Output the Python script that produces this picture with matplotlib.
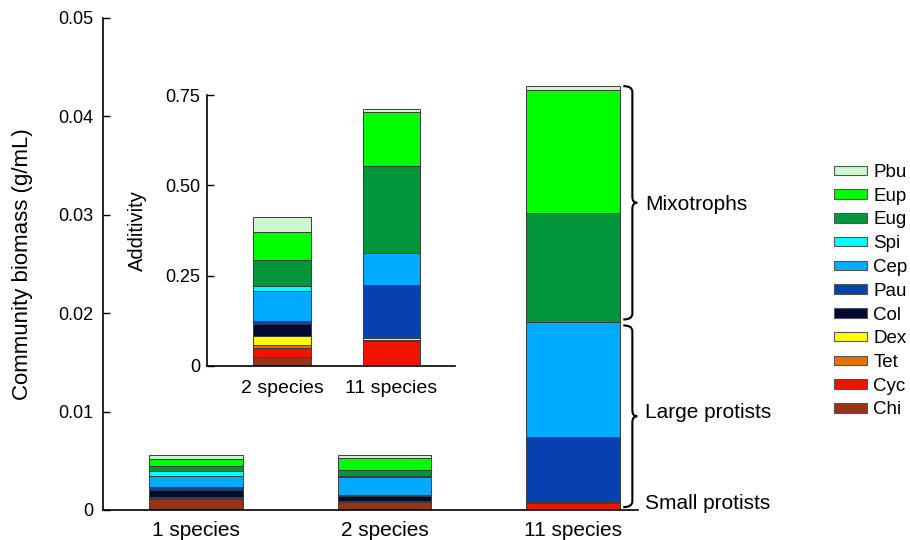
import numpy as np
import matplotlib
matplotlib.use("Agg")
import matplotlib.pyplot as plt
from matplotlib.patches import Patch, PathPatch
from matplotlib.path import Path

plt.rcParams['font.family'] = ['Liberation Sans', 'DejaVu Sans']

# species, bottom of the stack first
species = ['Chi', 'Cyc', 'Tet', 'Dex', 'Col', 'Pau', 'Cep', 'Spi', 'Eug', 'Eup', 'Pbu']
colors = ['#993318', '#ee1400', '#e87000', '#ffff00', '#000a33', '#0840b0',
          '#00aaff', '#00ffff', '#00963a', '#00ff00', '#ccf7cc']

groups = ['1 species', '2 species', '11 species']
biomass_1sp = [0.00109, 0.00013, 0.00013, 0.0, 0.00068, 0.00034, 0.00109, 0.00054, 0.00045, 0.00074, 0.00038]
biomass_2sp = [0.00084, 0.00005, 0.0, 0.0, 0.00058, 0.00005, 0.00183, 0.00013, 0.00061, 0.00119, 0.00036]
biomass_11sp = [0.0, 0.00076, 0.0, 0.0, 0.00003, 0.00658, 0.01169, 0.0, 0.01108, 0.01257, 0.00037]

inset_groups = ['2 species', '11 species']
additivity_2sp = [0.025, 0.025, 0.007, 0.026, 0.033, 0.0085, 0.084, 0.013, 0.0715, 0.077, 0.043]
additivity_11sp = [0.0, 0.070, 0.002, 0.006, 0.0, 0.146, 0.0897, 0.0, 0.24, 0.149, 0.009]

yticks = [0, 0.01, 0.02, 0.03, 0.04, 0.05]
ytick_labels = ['0', '0.01', '0.02', '0.03', '0.04', '0.05']
inset_yticks = [0, 0.25, 0.5, 0.75]
inset_ytick_labels = ['0', '0.25', '0.50', '0.75']


def stack(ax, x, values, width):
    bottom = 0.0
    for v, c in zip(values, colors):
        if v > 0:
            ax.bar(x, v, width, bottom=bottom, color=c, edgecolor='#3c3c3c', linewidth=0.7)
        bottom += v
    return bottom


def brace(ax, y0, y1, x0=2.266, x1=2.34, k=0.0006):
    # right-pointing curly brace between y0 and y1
    xb = x0 + 0.65 * (x1 - x0)
    ym = (y0 + y1) / 2
    verts = [(x0, y0), (xb, y0), (xb, y0 + k), (xb, ym - k), (xb, ym), (x1, ym),
             (xb, ym), (xb, ym + k), (xb, y1 - k), (xb, y1), (x0, y1)]
    codes = [Path.MOVETO, Path.CURVE3, Path.CURVE3, Path.LINETO, Path.CURVE3, Path.CURVE3,
             Path.CURVE3, Path.CURVE3, Path.LINETO, Path.CURVE3, Path.CURVE3]
    ax.add_patch(PathPatch(Path(verts, codes), fill=False, lw=1.5, color='black', clip_on=False))


fig = plt.figure(figsize=(9.1, 5.4), dpi=100)

# main axes
ax = fig.add_axes([103 / 910, 1 - 510 / 540, 535 / 910, 492 / 540])
for i, vals in enumerate([biomass_1sp, biomass_2sp, biomass_11sp]):
    stack(ax, i, vals, 0.497)
ax.set_xlim(-0.492, 2.344)
ax.set_ylim(0, 0.05)
ax.set_yticks(yticks)
ax.set_yticklabels(ytick_labels)
ax.set_xticks(range(len(groups)))
ax.set_xticklabels(groups)
ax.tick_params(axis='y', direction='in', length=5, width=1, pad=7, labelsize=13)
ax.tick_params(axis='x', length=0, pad=8, labelsize=15)
ax.spines[['top', 'right']].set_visible(False)
ax.spines[['left', 'bottom']].set_linewidth(1.2)
ax.set_ylabel('Community biomass (g/mL)', fontsize=16, labelpad=18)

# functional-group braces on the 11-species bar
cum = np.cumsum(biomass_11sp)
small_top = cum[species.index('Col')]
large_top = cum[species.index('Spi')]
mixo_top = cum[-1]
brace(ax, small_top - 0.0005, large_top - 0.0003)
brace(ax, large_top + 0.0003, mixo_top)
ax.text(2.381, (large_top + mixo_top) / 2, 'Mixotrophs', fontsize=15, va='center', ha='left')
ax.text(2.381, (small_top + large_top) / 2, 'Large protists', fontsize=15, va='center', ha='left')
ax.text(2.381, small_top - 0.0001, 'Small protists', fontsize=15, va='center', ha='left')

# inset: additivity
axin = fig.add_axes([207 / 910, 1 - 366 / 540, 248 / 910, 271 / 540])
for i, vals in enumerate([additivity_2sp, additivity_11sp]):
    stack(axin, i, vals, 0.523)
axin.set_xlim(-0.688, 1.587)
axin.set_ylim(0, 0.75)
axin.set_yticks(inset_yticks)
axin.set_yticklabels(inset_ytick_labels)
axin.set_xticks(range(len(inset_groups)))
axin.set_xticklabels(inset_groups)
axin.tick_params(axis='y', direction='in', length=5, width=1, pad=5, labelsize=13)
axin.tick_params(axis='x', length=0, pad=10, labelsize=14)
axin.spines[['top', 'right']].set_visible(False)
axin.spines[['left', 'bottom']].set_linewidth(1.2)
axin.set_ylabel('Additivity', fontsize=14.5, labelpad=13)

handles = [Patch(facecolor=c, edgecolor='#555555', linewidth=0.8, label=s)
           for s, c in zip(species[::-1], colors[::-1])]
fig.legend(handles=handles, loc='upper left', bbox_to_anchor=(834 / 910, 1 - 164 / 540),
           frameon=False, fontsize=13.5, handlelength=1.75, handleheight=0.4,
           handletextpad=0.35, labelspacing=0.36, borderpad=0, borderaxespad=0)

fig.savefig('out.png', dpi=100)
